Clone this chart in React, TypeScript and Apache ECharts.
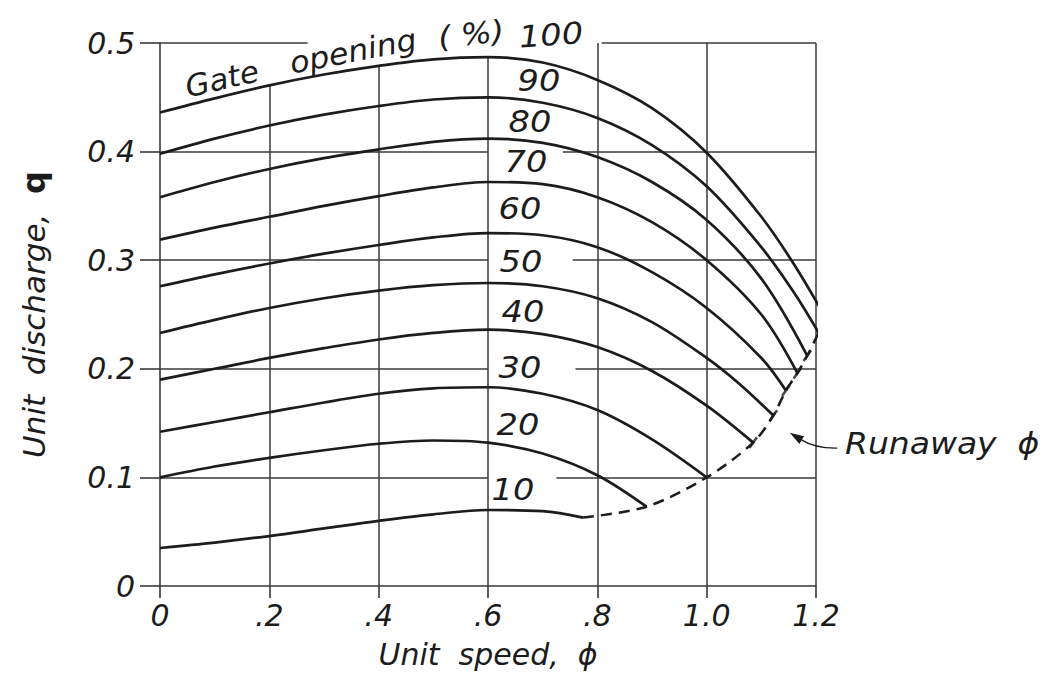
import React, { useEffect, useRef } from "react";
import * as echarts from "echarts";

// Turbine characteristic: unit discharge q against unit speed φ, one curve per gate opening (%)
const gateOpenings = [10, 20, 30, 40, 50, 60, 70, 80, 90, 100];

const gate10 = [[0, 0.035], [0.1, 0.04], [0.2, 0.046], [0.3, 0.053], [0.4, 0.06], [0.5, 0.066], [0.6, 0.07], [0.7, 0.069], [0.774, 0.063]];
const gate20 = [[0, 0.1], [0.1, 0.11], [0.2, 0.118], [0.3, 0.125], [0.4, 0.131], [0.5, 0.134], [0.6, 0.132], [0.7, 0.122], [0.8, 0.102], [0.89, 0.073]];
const gate30 = [[0, 0.142], [0.1, 0.151], [0.2, 0.16], [0.3, 0.169], [0.4, 0.177], [0.5, 0.182], [0.6, 0.183], [0.7, 0.177], [0.8, 0.162], [0.9, 0.135], [1.0, 0.1]];
const gate40 = [[0, 0.19], [0.1, 0.2], [0.2, 0.21], [0.3, 0.219], [0.4, 0.227], [0.5, 0.233], [0.6, 0.236], [0.7, 0.232], [0.8, 0.22], [0.9, 0.198], [1.0, 0.166], [1.085, 0.132]];
const gate50 = [[0, 0.233], [0.1, 0.245], [0.2, 0.256], [0.3, 0.265], [0.4, 0.272], [0.5, 0.277], [0.6, 0.279], [0.7, 0.276], [0.8, 0.265], [0.9, 0.243], [1.0, 0.21], [1.06, 0.186], [1.122, 0.157]];
const gate60 = [[0, 0.276], [0.1, 0.287], [0.2, 0.297], [0.3, 0.306], [0.4, 0.314], [0.5, 0.321], [0.6, 0.325], [0.7, 0.323], [0.8, 0.312], [0.9, 0.289], [1.0, 0.256], [1.1, 0.21], [1.145, 0.18]];
const gate70 = [[0, 0.319], [0.1, 0.33], [0.2, 0.34], [0.3, 0.35], [0.4, 0.359], [0.5, 0.367], [0.6, 0.372], [0.7, 0.37], [0.8, 0.358], [0.9, 0.335], [1.0, 0.3], [1.1, 0.25], [1.166, 0.196]];
const gate80 = [[0, 0.358], [0.1, 0.372], [0.2, 0.384], [0.3, 0.394], [0.4, 0.402], [0.5, 0.409], [0.6, 0.412], [0.7, 0.408], [0.8, 0.395], [0.9, 0.372], [1.0, 0.337], [1.1, 0.283], [1.184, 0.212]];
const gate90 = [[0, 0.398], [0.1, 0.412], [0.2, 0.424], [0.3, 0.434], [0.4, 0.442], [0.5, 0.448], [0.6, 0.45], [0.7, 0.445], [0.8, 0.431], [0.9, 0.406], [1.0, 0.368], [1.1, 0.312], [1.16, 0.27], [1.205, 0.233]];
const gate100 = [[0, 0.436], [0.1, 0.449], [0.2, 0.461], [0.3, 0.471], [0.4, 0.479], [0.5, 0.485], [0.6, 0.487], [0.7, 0.482], [0.8, 0.466], [0.9, 0.44], [1.0, 0.399], [1.1, 0.34], [1.16, 0.296], [1.22, 0.245]];

const curves = [gate10, gate20, gate30, gate40, gate50, gate60, gate70, gate80, gate90, gate100];

const xTicks = [0, 0.2, 0.4, 0.6, 0.8, 1.0, 1.2];
const xTickLabels = ["0", ".2", ".4", ".6", ".8", "1.0", "1.2"];
const yTicks = [0, 0.1, 0.2, 0.3, 0.4, 0.5];
const yTickLabels = ["0", "0.1", "0.2", "0.3", "0.4", "0.5"];

// leader from the "Runaway ϕ" note to the runaway locus (φ, q)
const runawayNoteFrom = [1.239, 0.127];
const runawayNoteTo = [1.152, 0.141];

const FONT = '"DejaVu Sans", sans-serif';
const INK = "#1c1c1c";
const GRID_INK = "#3a3a3a";

export default function App() {
  const ref = useRef<HTMLDivElement>(null);

  useEffect(() => {
    if (!ref.current) return;
    const chart = echarts.init(ref.current, undefined, { renderer: "svg" });

    // runaway locus joins the end of every gate-opening curve
    const runaway = curves.map((c) => c[c.length - 1]);
    const q100At = (x: number) => {
      const p = gate100.find((pt) => Math.abs(pt[0] - x) < 1e-9);
      return p ? p[1] : 0.5;
    };

    // grid lines, interrupted where the curve labels sit
    const seg = (a: number[], b: number[]) => [{ coord: a }, { coord: b }];
    const gridSegments: any[] = [];
    xTicks.slice(1).forEach((x) => {
      const top = x <= 0.6 ? q100At(x) : 0.5;
      gridSegments.push(seg([x, 0], [x, top]));
    });
    const gapEnd: Record<string, number> = { "0.1": 0.725, "0.2": 0.76, "0.3": 0.755, "0.4": 0.737 };
    yTicks.slice(1, 5).forEach((y) => {
      gridSegments.push(seg([0, y], [0.6, y]));
      gridSegments.push(seg([gapEnd[y.toFixed(1)], y], [1.2, y]));
    });
    gridSegments.push(seg([0, 0.5], [0.27, 0.5]));
    gridSegments.push(seg([0.808, 0.5], [1.2, 0.5]));

    const curveSeries = curves.map((c, i) => ({
      name: `${gateOpenings[i]}%`,
      type: "line",
      data: c,
      smooth: 0.34,
      showSymbol: false,
      clip: false,
      z: 3,
      lineStyle: { color: INK, width: 2.7 },
      silent: true,
    }));

    const labelFont = `italic 30px ${FONT}`;
    const txt = (text: string, x: number, y: number, deg: number, align = "center", sx = 1.12) => ({
      type: "text",
      x,
      y,
      rotation: (deg * Math.PI) / 180,
      scaleX: sx,
      z: 4,
      style: {
        text,
        fill: INK,
        font: labelFont,
        textAlign: align,
        textVerticalAlign: "middle",
        verticalAlign: "middle",
      },
    });

    const labels = [
      txt("Gate", 222, 79, 13, "center", 1.04),
      txt("opening", 353, 51, 11, "center", 1.06),
      txt("( %)", 471, 34, 6, "center", 1.08),
      txt("100", 551, 35, 4),
      txt("90", 539, 81, 0),
      txt("80", 530, 122, 0),
      txt("70", 526, 162, 0),
      txt("60", 520, 209, 0),
      txt("50", 521, 262, 0),
      txt("40", 523, 312, 0),
      txt("30", 520, 368, 0),
      txt("20", 518, 425, 0),
      txt("10", 513, 490, 0),
      txt("Runaway  ϕ", 845, 444, 0, "left", 1.1),
    ];

    chart.setOption({
      animation: false,
      backgroundColor: "#ffffff",
      grid: { left: 160, top: 43, right: 228, bottom: 89 },
      xAxis: {
        type: "value",
        min: 0,
        max: 1.2,
        interval: 0.2,
        name: "Unit  speed,  ϕ",
        nameLocation: "middle",
        nameGap: 53,
        nameTextStyle: { fontFamily: FONT, fontStyle: "italic", fontSize: 30, color: INK },
        axisLine: { show: true, lineStyle: { color: GRID_INK, width: 1.6 } },
        axisTick: { show: true, length: 12, lineStyle: { color: GRID_INK, width: 1.6 } },
        splitLine: { show: false },
        axisLabel: {
          margin: 14,
          fontFamily: FONT,
          fontStyle: "italic",
          fontSize: 30,
          color: INK,
          formatter: (v: number) => xTickLabels[Math.round(v * 5)] ?? "",
        },
      },
      yAxis: {
        type: "value",
        min: 0,
        max: 0.5,
        interval: 0.1,
        name: "{a|Unit  discharge,  }{b|q}",
        nameLocation: "middle",
        nameRotate: 90,
        nameGap: 110,
        nameTextStyle: {
          color: INK,
          rich: {
            a: { fontFamily: FONT, fontStyle: "italic", fontSize: 31, color: INK },
            b: { fontFamily: FONT, fontWeight: "bold", fontSize: 32, color: INK },
          },
        },
        axisLine: { show: true, lineStyle: { color: GRID_INK, width: 1.6 } },
        axisTick: { show: true, length: 20, lineStyle: { color: GRID_INK, width: 1.6 } },
        splitLine: { show: false },
        axisLabel: {
          margin: 25,
          fontFamily: FONT,
          fontStyle: "italic",
          fontSize: 30,
          color: INK,
          formatter: (v: number) => yTickLabels[Math.round(v * 10)] ?? "",
        },
      },
      series: [
        {
          name: "grid",
          type: "line",
          data: [[0, 0]],
          symbol: "none",
          silent: true,
          lineStyle: { opacity: 0 },
          markLine: {
            silent: true,
            z: 1,
            symbol: ["none", "none"],
            label: { show: false },
            emphasis: { disabled: true },
            lineStyle: { color: GRID_INK, width: 1.5, type: "solid" },
            data: gridSegments,
          },
        },
        ...curveSeries,
        {
          name: "Runaway",
          type: "line",
          data: runaway,
          smooth: 0.3,
          showSymbol: false,
          clip: false,
          z: 3,
          silent: true,
          lineStyle: { color: INK, width: 2.5, type: [11, 7] },
        },
        {
          name: "Runaway marks",
          type: "scatter",
          data: runaway.slice(3, 8),
          symbol: "rect",
          symbolSize: [13, 2.6],
          symbolRotate: 55,
          clip: false,
          z: 3,
          silent: true,
          itemStyle: { color: INK },
        },
      ],
      graphic: labels,
    });

    // leader arrow, placed through the chart's own coordinate conversion
    const p0 = chart.convertToPixel({ gridIndex: 0 }, runawayNoteFrom) as number[];
    const p1 = chart.convertToPixel({ gridIndex: 0 }, runawayNoteTo) as number[];
    const cx = (p0[0] + p1[0]) / 2 + 2;
    const cy = (p0[1] + p1[1]) / 2 + 8;
    const dx = p1[0] - cx;
    const dy = p1[1] - cy;
    const len = Math.hypot(dx, dy) || 1;
    const ux = dx / len;
    const uy = dy / len;
    const headLen = 14;
    const headHalf = 4.5;
    const bx = p1[0] - ux * headLen;
    const by = p1[1] - uy * headLen;
    chart.setOption({
      graphic: [
        ...labels,
        {
          type: "bezierCurve",
          z: 4,
          shape: { x1: p0[0], y1: p0[1], x2: bx, y2: by, cpx1: cx, cpy1: cy },
          style: { stroke: INK, lineWidth: 1.4, fill: "none" },
        },
        {
          type: "polygon",
          z: 4,
          shape: {
            points: [
              [p1[0], p1[1]],
              [bx - uy * headHalf, by + ux * headHalf],
              [bx + uy * headHalf, by - ux * headHalf],
            ],
          },
          style: { fill: INK },
        },
      ],
    });

    return () => chart.dispose();
  }, []);

  return (
    <div
      ref={ref}
      style={{ position: "fixed", left: 0, top: 0, width: 1044, height: 675, background: "#fff" }}
    />
  );
}
